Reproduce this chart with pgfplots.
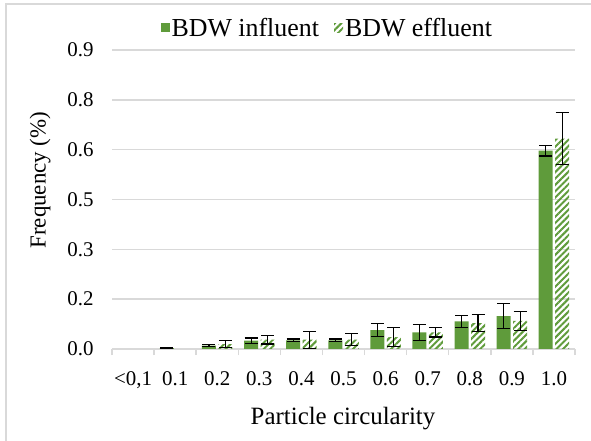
\documentclass[border=0pt]{standalone}
\usepackage{pgfplots}
\pgfplotsset{compat=1.18}
\usepackage{fontspec}
\setmainfont{Liberation Serif}
\usetikzlibrary{patterns.meta}
\definecolor{bargreen}{HTML}{5F9B3B}
\definecolor{gridgray}{HTML}{D9D9D9}

\begin{document}
\begin{tikzpicture}
\path[use as bounding box] (0,0) rectangle (591bp,441bp);
% outer frame (only left and top edges show)
\draw[gridgray, line width=1.5bp] (6bp,0) -- (6bp,437bp) -- (591bp,437bp);

\begin{axis}[
    at={(112bp,92bp)}, anchor=south west,
    scale only axis,
    width=463bp, height=299bp,
    ybar=2.5bp, bar width=14bp,
    xmin=-0.5, xmax=10.5,
    ymin=0, ymax=0.9,
    axis lines*=left,
    y axis line style={draw=none},
    x axis line style={draw=gridgray, line width=1.5bp},
    xtick={0,...,10},
    xticklabels={{<0,1},0.1,0.2,0.3,0.4,0.5,0.6,0.7,0.8,0.9,1.0},
    minor xtick={-0.5,0.5,...,10.5},
    ytick={0,0.15,0.3,0.45,0.6,0.75,0.9},
    yticklabels={0.0,0.2,0.3,0.5,0.6,0.8,0.9},
    major tick length=0pt,
    minor tick length=6bp,
    tick align=outside,
    minor tick style={draw=gridgray, line width=1.5bp},
    major tick style={draw=none},
    ymajorgrids,
    major grid style={draw=gridgray, line width=1.5bp},
    ticklabel style={font=\fontsize{21}{25}\selectfont},
    xticklabel style={yshift=-19bp},
    yticklabel style={xshift=-15bp},
    xlabel={Particle circularity},
    ylabel={Frequency (\%)},
    xlabel style={font=\fontsize{25}{30}\selectfont, at={(axis description cs:0.499,-0.231)}, anchor=center},
    ylabel style={font=\fontsize{23}{28}\selectfont, at={(axis description cs:-0.155,0.565)}, anchor=center},
    legend columns=2,
    legend style={at={(axis description cs:0.465,1.074)}, anchor=center, draw=none, fill=none,
        font=\fontsize{26}{30}\selectfont, inner xsep=0pt,
        /tikz/every even column/.append style={column sep=13bp}},
    legend image code/.code={\fill[#1] (1bp,-4.5bp) rectangle (10bp,4.5bp);},
    error bars/y dir=both,
    error bars/y explicit,
    error bars/error bar style={black, line width=1.1bp},
    error bars/error mark options={black, line width=1.1bp, mark size=6.5bp, rotate=90},
]

% BDW influent
\addplot[draw=none, fill=bargreen] coordinates {
    (1,0.003) +- (0,0.001)
    (2,0.010) +- (0,0.003)
    (3,0.025) +- (0,0.008)
    (4,0.026) +- (0,0.004)
    (5,0.026) +- (0,0.004)
    (6,0.057) +- (0,0.019)
    (7,0.050) +- (0,0.025)
    (8,0.083) +- (0,0.019)
    (9,0.099) +- (0,0.037)
    (10,0.597) +- (0,0.016)
};

% BDW effluent
\addplot[draw=none, pattern={Lines[angle=45, distance=4.5bp, line width=2bp]}, pattern color=bargreen] coordinates {
    (2,0.015) +- (0,0.010)
    (3,0.028) +- (0,0.013)
    (4,0.028) +- (0,0.026)
    (5,0.028) +- (0,0.018)
    (6,0.036) +- (0,0.028)
    (7,0.050) +- (0,0.014)
    (8,0.078) +- (0,0.025)
    (9,0.085) +- (0,0.028)
    (10,0.633) +- (0,0.079)
};

\legend{BDW influent, BDW effluent}

\node[font=\bfseries\fontsize{20}{24}\selectfont] at (axis description cs:0.946,1.040) {E.b};
\end{axis}
\end{tikzpicture}
\end{document}
